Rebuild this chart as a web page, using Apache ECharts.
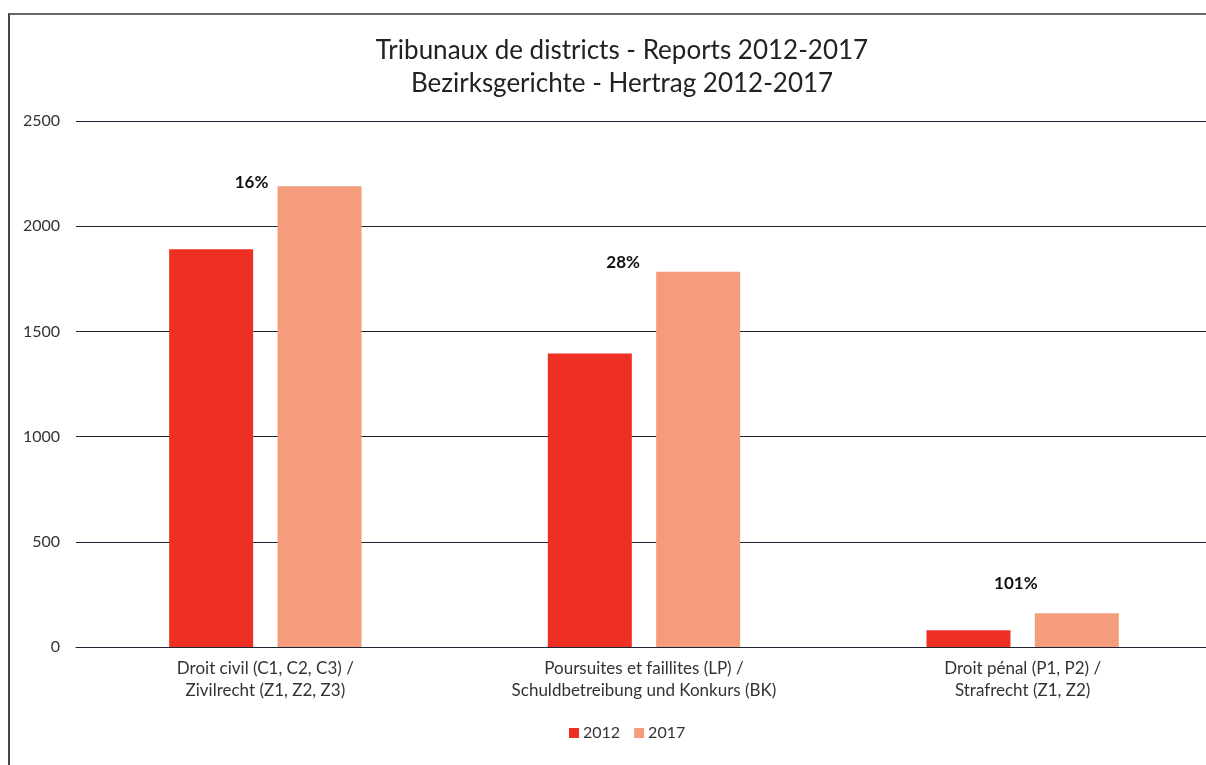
<!DOCTYPE html>
<html>
<head>
<meta charset="utf-8">
<script src="https://cdn.jsdelivr.net/npm/echarts@6/dist/echarts.min.js"></script>
<style>
  html, body { margin: 0; padding: 0; background: #fff; overflow: hidden; }
  #frame {
    position: absolute; left: 8px; top: 13px; right: -10px; bottom: -10px;
    border-top: 2px solid #666; border-left: 2px solid #444;
  }
  #main { position: absolute; left: 0; top: 0; width: 1212px; height: 765px; }
</style>
</head>
<body>
<div id="frame"></div>
<div id="main"></div>
<script>
// 类别 / catégories
var categories = [
  'Droit civil (C1, C2, C3) /\nZivilrecht (Z1, Z2, Z3)',
  'Poursuites et faillites (LP) /\nSchuldbetreibung und Konkurs (BK)',
  'Droit pénal (P1, P2) /\nStrafrecht (Z1, Z2)'
];
var seriesNames = ['2012', '2017'];
var values2012 = [1890, 1395, 80];
var values2017 = [2190, 1783, 161];
var changeLabels = ['16%', '28%', '101%'];
var yTicks = [0, 500, 1000, 1500, 2000, 2500];

// label placement (style only)
var labelOffsets = [[-68, 10], [-75, 4], [-61, -16]];

var myChart = echarts.init(document.getElementById('main'));
var font = 'Lato, "Open Sans", sans-serif';

var data2017 = values2017.map(function (v, i) {
  return {
    value: v,
    label: {
      show: true,
      position: 'top',
      formatter: changeLabels[i],
      offset: labelOffsets[i],
      fontWeight: 'bold',
      fontSize: 17,
      color: '#111',
      fontFamily: font
    }
  };
});

var option = {
  animation: false,
  title: {
    text: 'Tribunaux de districts - Reports 2012-2017\nBezirksgerichte - Hertrag 2012-2017',
    left: 617,
    top: 29,
    textAlign: 'center',
    textStyle: {
      fontSize: 26,
      fontWeight: 'normal',
      color: '#222',
      lineHeight: 33,
      fontFamily: font
    }
  },
  legend: {
    data: seriesNames,
    bottom: 19,
    left: 564,
    itemWidth: 10,
    itemHeight: 10,
    itemGap: 14,
    icon: 'rect',
    textStyle: { fontSize: 16, color: '#333', fontFamily: font, padding: [0, 0, 0, -1] }
  },
  grid: { left: 76, right: 0, top: 121, bottom: 118, containLabel: false },
  xAxis: {
    type: 'category',
    data: categories,
    axisTick: { show: false },
    axisLine: { show: true, lineStyle: { color: '#1c2533', width: 1 } },
    axisLabel: { fontSize: 17, color: '#333', lineHeight: 22, margin: 11, fontFamily: font, interval: 0 }
  },
  yAxis: {
    type: 'value',
    min: yTicks[0],
    max: yTicks[yTicks.length - 1],
    interval: 500,
    axisLine: { show: false },
    axisTick: { show: false },
    splitLine: { lineStyle: { color: '#1c2533', width: 1 } },
    axisLabel: { fontSize: 16, color: '#333', margin: 16, fontFamily: font, formatter: function (v) { return String(v); } }
  },
  series: [
    {
      name: seriesNames[0],
      type: 'bar',
      data: values2012,
      barWidth: 84,
      barGap: '29%',
      itemStyle: { color: '#EE3024' }
    },
    {
      name: seriesNames[1],
      type: 'bar',
      data: data2017,
      barWidth: 84,
      itemStyle: { color: '#F59C7C' }
    }
  ]
};
option && myChart.setOption(option);
</script>
</body>
</html>
